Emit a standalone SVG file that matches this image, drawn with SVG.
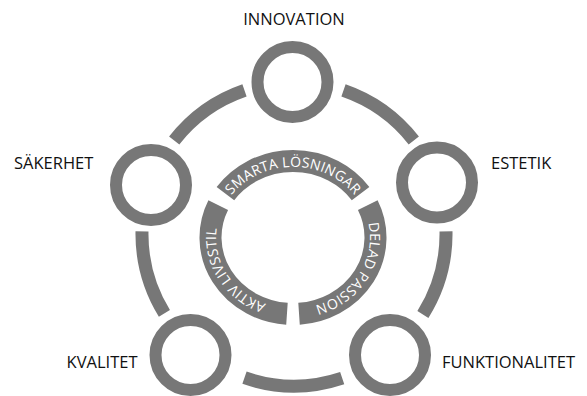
<svg xmlns="http://www.w3.org/2000/svg" xmlns:xlink="http://www.w3.org/1999/xlink" width="587" height="396" viewBox="0 0 587 396">
  <style>
    .ring { fill: none; stroke: #777777; stroke-width: 12; }
    .link { fill: none; stroke: #777777; stroke-width: 13; stroke-linecap: butt; }
    .band { fill: none; stroke: #777777; stroke-width: 22; stroke-linecap: butt; }
    .label { font-family: "Open Sans", "Liberation Sans", sans-serif; font-size: 16.5px; fill: #111111; }
    .arc-text { font-family: "Open Sans", "Liberation Sans", sans-serif; font-size: 14px; fill: #ffffff; letter-spacing: 0.2px; }
  </style>
  <defs>
    <!-- baselines for the curved captions, all running clockwise -->
    <path id="p-top" d="M229.92,197.09 A77,71 0 0 1 356.08,197.09"/>
    <path id="p-right" d="M362.79,207.49 A77,71 0 0 1 298.63,308.31"/>
    <path id="p-left" d="M287.37,308.31 A77,71 0 0 1 223.21,207.49"/>
  </defs>

  <rect width="587" height="396" fill="#ffffff"/>

  <!-- outer ring segments between the value circles -->
  <g id="connectors">
    <path class="link" d="M174.2,140.4 A152,152 0 0 1 244.5,90.3"/>
    <path class="link" d="M343.5,90.3 A152,152 0 0 1 413.8,140.4"/>
    <path class="link" d="M446,231.3 A152,152 0 0 1 422.9,314.5"/>
    <path class="link" d="M342.2,378.1 A152,152 0 0 1 244.5,377.7"/>
    <path class="link" d="M164.4,313.4 A152,152 0 0 1 142,231.3"/>
  </g>

  <!-- central band in three parts with curved captions -->
  <g id="core">
    <path class="band" d="M225.42,193.62 A82.5,76.5 0 0 1 360.58,193.62"/>
    <path class="band" d="M367.77,205.17 A82.5,76.5 0 0 1 299.04,313.8"/>
    <path class="band" d="M286.96,313.8 A82.5,76.5 0 0 1 218.23,205.17"/>
    <text class="arc-text"><textPath xlink:href="#p-top" href="#p-top" startOffset="50%" text-anchor="middle">SMARTA LÖSNINGAR</textPath></text>
    <text class="arc-text"><textPath xlink:href="#p-right" href="#p-right" startOffset="50%" text-anchor="middle">DELAD PASSION</textPath></text>
    <text class="arc-text"><textPath xlink:href="#p-left" href="#p-left" startOffset="50%" text-anchor="middle">AKTIV LIVSSTIL</textPath></text>
  </g>

  <g id="innovation">
    <circle class="ring" cx="292.5" cy="82" r="35"/>
    <text class="label" x="294" y="25" text-anchor="middle">INNOVATION</text>
  </g>
  <g id="estetik">
    <circle class="ring" cx="437" cy="182.5" r="35"/>
    <text class="label" x="491" y="169">ESTETIK</text>
  </g>
  <g id="sakerhet">
    <circle class="ring" cx="151" cy="185" r="35"/>
    <text class="label" x="14" y="169">SÄKERHET</text>
  </g>
  <g id="kvalitet">
    <circle class="ring" cx="190.5" cy="355" r="35"/>
    <text class="label" x="137.5" y="368" text-anchor="end">KVALITET</text>
  </g>
  <g id="funktionalitet">
    <circle class="ring" cx="390" cy="355" r="35"/>
    <text class="label" x="442" y="368">FUNKTIONALITET</text>
  </g>
</svg>
